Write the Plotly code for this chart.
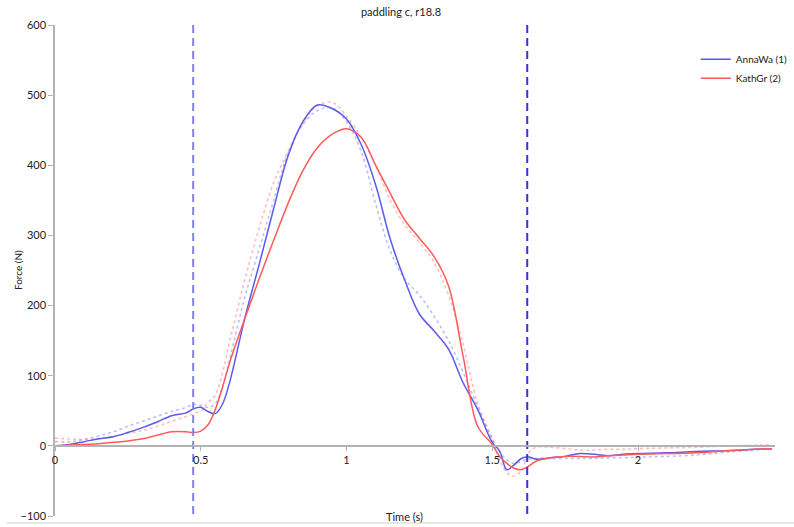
import plotly.graph_objects as go

time_s = [0, 0.05, 0.1, 0.15, 0.2, 0.25, 0.3, 0.35, 0.4, 0.45, 0.475, 0.5, 0.525, 0.55, 0.575,
          0.6, 0.65, 0.7, 0.75, 0.8, 0.85, 0.9, 0.95, 1.0, 1.05, 1.1, 1.15, 1.2, 1.25, 1.3, 1.35,
          1.4, 1.45, 1.5, 1.525, 1.55, 1.575, 1.6, 1.625, 1.65, 1.7, 1.75, 1.8, 1.85, 1.9, 1.95,
          2.0, 2.1, 2.2, 2.3, 2.4, 2.46]

anna_force = [0, 2, 6, 10, 13, 19, 26, 34, 43, 47, 53, 55, 49, 46, 60,
              92, 180, 258, 338, 414, 462, 486, 481, 466, 430, 372, 295, 236, 188, 164, 138,
              90, 52, 5, -7, -34, -27, -18, -16, -19, -17, -15, -11, -12, -14, -12,
              -11, -10, -8, -7, -5, -4]

kath_force = [0, 1, 2, 3, 5, 7, 10, 15, 20, 20, 19, 21, 30, 52, 84,
              120, 180, 238, 293, 346, 392, 425, 444, 452, 440, 400, 360, 322, 296, 270, 228,
              128, 28, 2, -15, -25, -32, -34, -29, -22, -17, -15, -15, -16, -14, -13,
              -12, -11, -10, -7, -5, -4]

anna_ref = [6, 6, 9, 14, 20, 28, 35, 42, 49, 55, 59, 58, 55, 60, 85,
            125, 210, 280, 350, 418, 458, 478, 482, 462, 420, 345, 278, 238, 215, 185, 150,
            105, 55, 10, -8, -20, -25, -22, -19, -18, -18, -18, -18, -18, -17, -17,
            -16, -15, -13, -9, -6, -4]

kath_ref = [11, 10, 9, 10, 14, 18, 22, 28, 35, 42, 46, 50, 62, 72, 105,
            150, 235, 310, 375, 420, 460, 485, 490, 470, 440, 400, 350, 315, 290, 262, 215,
            145, 60, 10, -20, -38, -43, -35, -10, -2, -2, -4, -6, -6, -5, -5,
            -4, -3, -2, 0, 1, 2]

phase_marks = [0.474, 1.62]
mark_colors = ["#8080f0", "#3535d5"]

y_ticks = [-100, 0, 100, 200, 300, 400, 500, 600]
x_ticks = [0, 0.5, 1, 1.5, 2]
x_tick_text = ["0", "0.5", "1", "1.5", "2"]

FONT = "Lato"

fig = go.Figure()

fig.add_trace(go.Scatter(x=time_s, y=anna_ref, mode="lines", showlegend=False,
                         line=dict(color="rgba(110,110,240,0.45)", width=1.6, dash="dot", shape="spline")))
fig.add_trace(go.Scatter(x=time_s, y=kath_ref, mode="lines", showlegend=False,
                         line=dict(color="rgba(255,110,110,0.45)", width=1.6, dash="dot", shape="spline")))
fig.add_trace(go.Scatter(x=time_s, y=anna_force, mode="lines", name="AnnaWa (1)",
                         line=dict(color="#5a5aee", width=1.5, shape="spline")))
fig.add_trace(go.Scatter(x=time_s, y=kath_force, mode="lines", name="KathGr (2)",
                         line=dict(color="#ff5a5a", width=1.5, shape="spline")))

for xm, c in zip(phase_marks, mark_colors):
    fig.add_trace(go.Scatter(x=[xm, xm], y=[y_ticks[-1], y_ticks[0]], mode="lines",
                             showlegend=False, hoverinfo="skip",
                             line=dict(color=c, width=2, dash="8px,5px")))

fig.update_layout(
    width=794, height=527,
    margin=dict(l=55, r=19, t=25, b=11, autoexpand=False),
    paper_bgcolor="white", plot_bgcolor="white",
    font=dict(family=FONT, size=10, color="#222"),
    title=dict(text="paddling c, r18.8", x=0.505, xref="container", xanchor="center",
               y=0.977, yref="container", yanchor="middle",
               font=dict(family=FONT, size=11, color="#222")),
    legend=dict(x=0.89, y=0.96, xanchor="left", yanchor="top",
                font=dict(family=FONT, size=10), bgcolor="rgba(0,0,0,0)",
                tracegroupgap=4, itemwidth=30),
    showlegend=True,
)

fig.update_xaxes(range=[0, 2.47], anchor="free", position=100/700, automargin=False,
                 showline=True, linecolor="#b3b3b3", linewidth=2,
                 showgrid=False, zeroline=False,
                 tickmode="array", tickvals=x_ticks, ticktext=x_tick_text,
                 ticks="outside", ticklen=4, tickcolor="#b3b3b3",
                 tickfont=dict(family=FONT, size=11, color="#222"))
fig.update_yaxes(range=[-100, 600], automargin=False, showline=True, linecolor="#b3b3b3", linewidth=1.5,
                 showgrid=False, zeroline=False,
                 tickmode="array", tickvals=y_ticks,
                 ticks="outside", ticklen=5, tickcolor="#b3b3b3",
                 tickfont=dict(family=FONT, size=11, color="#222"))

fig.add_annotation(text="Force (N)", x=-0.052, y=0.5, xref="paper", yref="paper",
                   textangle=-90, showarrow=False, xanchor="center", yanchor="middle",
                   font=dict(family=FONT, size=10, color="#222"))
fig.add_annotation(text="Time (s)", x=0.486, y=0.0, xref="paper", yref="paper",
                   showarrow=False, xanchor="center", yanchor="middle",
                   font=dict(family=FONT, size=11, color="#222"))

fig.add_shape(type="line", xref="paper", yref="paper", x0=-0.067, x1=1.03, y0=-0.0145, y1=-0.0145,
              line=dict(color="#e0e0e0", width=1.5))

fig.write_html("out.html")
